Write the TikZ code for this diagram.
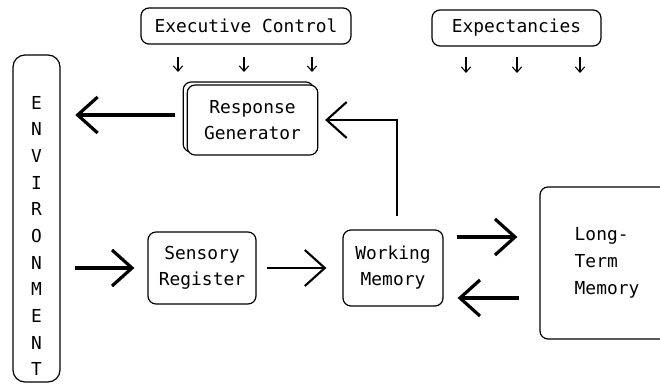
\documentclass[tikz,border=0pt]{standalone}
\usepackage{fontspec}
\setmainfont{DejaVu Sans Mono}
\usetikzlibrary{arrows.meta}

\begin{document}
\begin{tikzpicture}[x=0.75pt,y=-0.75pt,
  font=\fontsize{13.4}{19.6}\selectfont,
  box/.style={draw,line width=0.9pt,rounded corners=6pt,align=center,inner sep=0pt},
  bigarrow/.style={line width=2.4pt,-{Straight Barb[length=15pt,width=27pt]}},
  midarrow/.style={line width=1.6pt,-{Straight Barb[length=15pt,width=27pt]}},
  tinyarrow/.style={line width=0.8pt,-{Straight Barb[length=4pt,width=7pt]}}]

\useasboundingbox (0,0) rectangle (660,385);

% boxes
\node[box,minimum width=157.5pt,minimum height=27pt] (exec) at (246,26) {Executive Control};
\node[box,minimum width=126.75pt,minimum height=27pt] (expect) at (516.5,28) {Expectancies};

\node[box,rounded corners=9pt,minimum width=35.25pt,minimum height=245.25pt] (env) at (36.5,218.5) {};
\node[align=center,font=\fontsize{13.4}{20}\selectfont] (envtext) at (36.5,236) {E\\N\\V\\I\\R\\O\\N\\M\\E\\N\\T};

\node[box,fill=white,minimum width=98pt,minimum height=52.5pt] (rgback) at (248.5,117) {};
\node[box,fill=white,minimum width=98pt,minimum height=52.5pt] (rg) at (252.5,120) {Response\\Generator};

\node[box,minimum width=81pt,minimum height=54pt] (sr) at (202,268) {Sensory\\Register};
\node[box,minimum width=75pt,minimum height=57pt] (wm) at (393,268) {Working\\Memory};
\node[box,minimum width=100.5pt,minimum height=114pt,align=left,font=\fontsize{13.4}{20}\selectfont] (ltm) at (607,263) {Long-\\Term\\Memory};

% arrows
\foreach \x in {178,244,312} \draw[tinyarrow] (\x,57) -- (\x,72);
\foreach \x in {466,517,580} \draw[tinyarrow] (\x,57) -- (\x,73);

\draw[bigarrow,shorten <=9pt,shorten >=11pt] ([yshift=3.75pt]rg.west) -- ([yshift=3.75pt]rg.west -| env.east);
\draw[midarrow,shorten <=9.75pt,shorten >=5pt] ([xshift=3pt]wm.north) |- (rg.east);
\draw[bigarrow,shorten <=10.5pt,shorten >=9.75pt] (sr.west -| env.east) -- (sr.west);
\draw[midarrow,shorten <=8pt,shorten >=12pt] (sr.east) -- (wm.west);
\draw[bigarrow,shorten <=9.75pt,shorten >=16.5pt] ([yshift=23.25pt]wm.east) -- ([yshift=23.25pt]wm.east -| ltm.west);
\draw[bigarrow,shorten <=15pt,shorten >=10.5pt] ([yshift=-22.5pt]wm.east -| ltm.west) -- ([yshift=-22.5pt]wm.east);

\end{tikzpicture}
\end{document}
